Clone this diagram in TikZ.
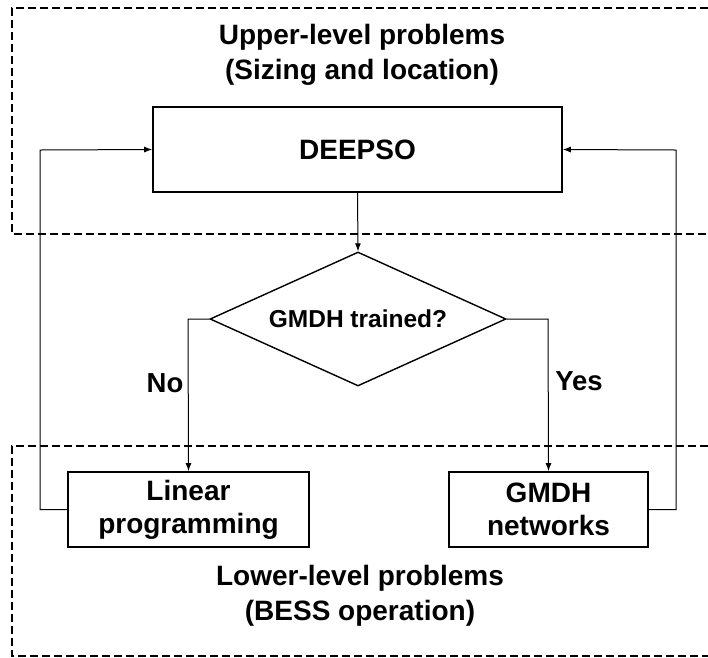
\documentclass[tikz,border=0pt]{standalone}
\usepackage{fontspec}
\setmainfont{Liberation Sans}
\usetikzlibrary{arrows.meta,shapes.geometric}
\begin{document}
\begin{tikzpicture}[x=1pt,y=-1pt,
  every node/.style={font=\bfseries},
  box/.style={draw,line width=1.6pt,inner sep=0pt,align=center,font=\fontsize{28}{33}\selectfont\bfseries},
  flow/.style={line width=1pt,-{Latex[length=8pt,width=6pt]}},
  region/.style={line width=1.2pt,dash pattern=on 8pt off 4pt},
  title/.style={align=center,font=\fontsize{28}{35}\selectfont\bfseries},
  label/.style={font=\fontsize{27.5}{30}\selectfont\bfseries}]
\useasboundingbox (0,0) rectangle (708,657);
% level regions
\draw[region] (708,8) -- (12,8) -- (12,234) -- (708,234);
\draw[region] (708,446) -- (12,446) -- (12,656) -- (708,656);
\node[title] (up) at (362,55) {Upper-level problems\\(Sizing and location)};
\node[title] (low) at (360,596) {Lower-level problems\\(BESS operation)};
% blocks
\node[box,minimum width=409pt,minimum height=85pt] (deepso) at (357.5,149.5) {DEEPSO};
\node[draw,diamond,line width=1.4pt,minimum width=296pt,minimum height=134pt,inner sep=0pt] (dec) at (358,319) {};
\node[font=\fontsize{24.5}{28}\selectfont\bfseries] (dectext) at (dec.center) {GMDH trained?};
\node[box,minimum width=241pt,minimum height=75pt] (lp) at (188.5,509.5) {Linear\\programming};
\node[box,minimum width=199pt,minimum height=75pt] (gm) at (548.5,509.5) {GMDH\\networks};
% connectors
\coordinate (cl) at (188,319);
\coordinate (cr) at (548,319);
\coordinate (fl1) at (40,509.5);
\coordinate (fl2) at (40,150);
\coordinate (fr1) at (676,509.5);
\coordinate (fr2) at (676,150);
\draw[flow] (deepso.south) -- (dec.north);
\draw[flow] (dec.west) -- (cl) -- (lp.north);
\draw[flow] (dec.east) -- (cr) -- (gm.north);
\draw[flow] (lp.west) -- (fl1) -- (fl2) -- (deepso.west);
\draw[flow] (gm.east) -- (fr1) -- (fr2) -- (deepso.east);
\node[label] (no) at (165,383) {No};
\node[label] (yes) at (579,381) {Yes};
\end{tikzpicture}
\end{document}
